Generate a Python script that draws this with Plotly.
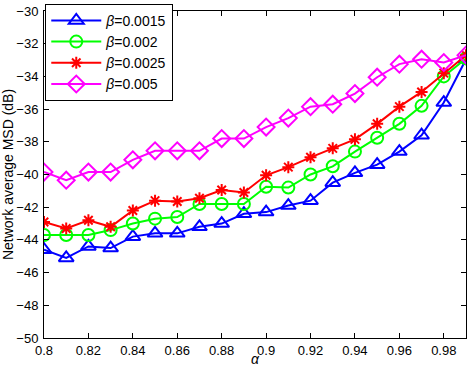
import plotly.graph_objects as go

alpha = [0.80, 0.81, 0.82, 0.83, 0.84, 0.85, 0.86, 0.87, 0.88, 0.89,
         0.90, 0.91, 0.92, 0.93, 0.94, 0.95, 0.96, 0.97, 0.98, 0.99]

msd_b0015 = [-44.6, -45.1, -44.4, -44.5, -43.8, -43.6, -43.6, -43.2, -43.0, -42.4,
             -42.3, -41.9, -41.6, -40.5, -39.9, -39.4, -38.6, -37.6, -35.6, -32.95]
msd_b002 = [-43.7, -43.7, -43.7, -43.4, -43.0, -42.7, -42.6, -41.8, -41.8, -41.8,
            -40.75, -40.8, -40.0, -39.5, -38.6, -37.75, -36.9, -35.8, -34.0, -32.9]
msd_b0025 = [-42.9, -43.3, -42.8, -43.2, -42.2, -41.6, -41.65, -41.45, -40.95, -41.1,
             -40.05, -39.55, -38.95, -38.4, -37.85, -36.9, -35.85, -34.95, -33.8, -32.7]
msd_b005 = [-39.85, -40.35, -39.85, -39.85, -39.1, -38.55, -38.55, -38.55, -37.8, -37.8,
            -37.1, -36.55, -35.85, -35.7, -35.05, -34.05, -33.25, -32.95, -33.15, -32.7]

names = ["<i>β</i>=0.0015", "<i>β</i>=0.002", "<i>β</i>=0.0025", "<i>β</i>=0.005"]
colors = ["#0000ff", "#00ff00", "#ff0000", "#ff00ff"]
symbols = ["triangle-up-open", "circle-open", "asterisk-open", "diamond-open"]
sizes = [13, 12, 10, 13]
series = [msd_b0015, msd_b002, msd_b0025, msd_b005]

xticks = [0.8, 0.82, 0.84, 0.86, 0.88, 0.9, 0.92, 0.94, 0.96, 0.98]
xticklabels = ["0.8", "0.82", "0.84", "0.86", "0.88", "0.9", "0.92", "0.94", "0.96", "0.98"]
yticks = [-50, -48, -46, -44, -42, -40, -38, -36, -34, -32, -30]
yticklabels = ["\u221250", "\u221248", "\u221246", "\u221244", "\u221242", "\u221240",
               "\u221238", "\u221236", "\u221234", "\u221232", "\u221230"]

FONT = "Liberation Sans, Arial, sans-serif"

fig = go.Figure()
for name, col, sym, sz, ys in zip(names, colors, symbols, sizes, series):
    fig.add_trace(go.Scatter(
        x=alpha, y=ys, name=name, mode="lines+markers",
        line=dict(color=col, width=2),
        marker=dict(symbol=sym, size=sz, color=col, line=dict(color=col, width=2)),
    ))

axis_common = dict(
    showline=True, linecolor="black", linewidth=1, mirror="ticks",
    ticks="inside", ticklen=5, tickcolor="black", showgrid=False, zeroline=False,
    ticklabeloverflow="allow",
    tickfont=dict(family=FONT, size=13, color="black"),
)

fig.update_layout(
    width=474, height=369,
    margin=dict(l=44, r=8, t=4, b=31),
    paper_bgcolor="white", plot_bgcolor="white",
    font=dict(family=FONT, color="black"),
    xaxis=dict(range=[0.8, 0.99], tickvals=xticks, ticktext=xticklabels,
               ticklabelstandoff=0, **axis_common),
    yaxis=dict(range=[-50, -30], tickvals=yticks, ticktext=yticklabels,
               ticklabelstandoff=2,
               title=dict(text="Network average MSD (dB)", standoff=2, font=dict(size=14)),
               **axis_common),
    legend=dict(x=0.003, y=1.022, xanchor="left", yanchor="top",
                bgcolor="white", bordercolor="black", borderwidth=1,
                font=dict(family=FONT, size=14),
                itemwidth=50, tracegroupgap=0),
    annotations=[dict(text="<i>α</i>", xref="paper", yref="paper", x=0.5, y=0,
                      xanchor="center", yanchor="top", yshift=-12, borderpad=0,
                      showarrow=False,
                      font=dict(family=FONT, size=14, color="black"))],
    showlegend=True,
)

fig.write_html("out.html", config={"displayModeBar": False},
               post_script="document.body.style.margin='0';document.body.style.overflow='hidden';")
